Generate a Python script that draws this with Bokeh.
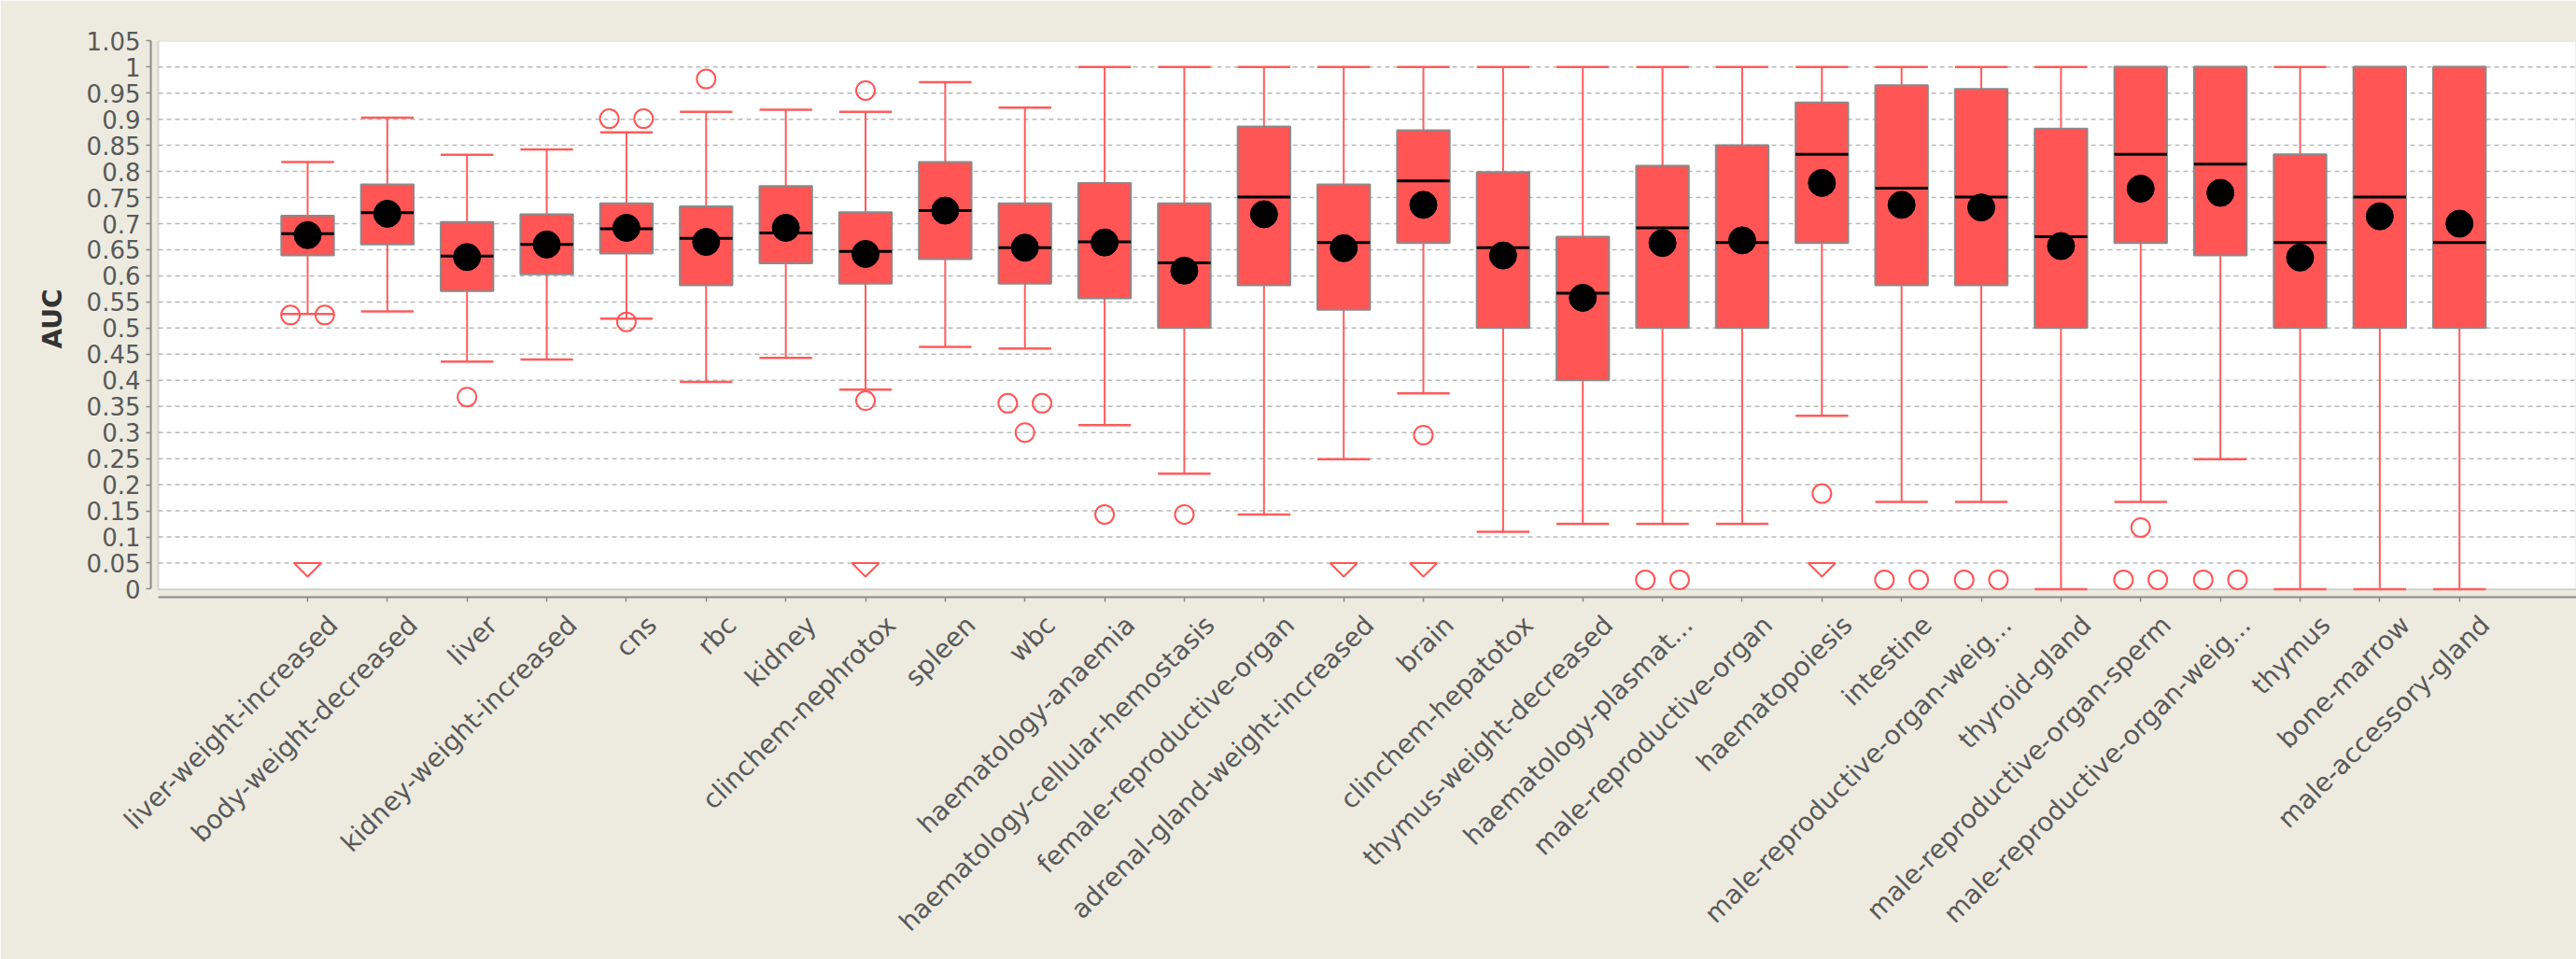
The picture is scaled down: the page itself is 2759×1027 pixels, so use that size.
import math
from bokeh.plotting import figure
from bokeh.models import Range1d, FixedTicker, BoxAnnotation, LinearAxis
from bokeh.embed import file_html
from bokeh.resources import INLINE

categories = [
    "liver-weight-increased", "body-weight-decreased", "liver", "kidney-weight-increased",
    "cns", "rbc", "kidney", "clinchem-nephrotox", "spleen", "wbc", "haematology-anaemia",
    "haematology-cellular-hemostasis", "female-reproductive-organ",
    "adrenal-gland-weight-increased", "brain", "clinchem-hepatotox", "thymus-weight-decreased",
    "haematology-plasmat...", "male-reproductive-organ", "haematopoiesis", "intestine",
    "male-reproductive-organ-weig...", "thyroid-gland", "male-reproductive-organ-sperm",
    "male-reproductive-organ-weig...", "thymus", "bone-marrow", "male-accessory-gland",
]
upper_whisker = [0.818, 0.903, 0.832, 0.842, 0.875, 0.914, 0.918, 0.914, 0.971, 0.922,
                 1.0, 1.0, 1.0, 1.0, 1.0, 1.0, 1.0, 1.0, 1.0, 1.0, 1.0, 1.0, 1.0, 1.0,
                 1.0, 1.0, 1.0, 1.0]
q3 = [0.715, 0.775, 0.703, 0.718, 0.739, 0.733, 0.772, 0.722, 0.818, 0.739, 0.778, 0.739,
      0.886, 0.775, 0.879, 0.799, 0.675, 0.811, 0.850, 0.932, 0.965, 0.958, 0.882, 1.0,
      1.0, 0.833, 1.0, 1.0]
median = [0.681, 0.721, 0.638, 0.660, 0.690, 0.672, 0.682, 0.647, 0.725, 0.654, 0.665, 0.625,
          0.751, 0.664, 0.782, 0.654, 0.567, 0.692, 0.664, 0.833, 0.768, 0.751, 0.675, 0.833,
          0.814, 0.664, 0.751, 0.664]
mean = [0.678, 0.719, 0.636, 0.660, 0.692, 0.665, 0.692, 0.642, 0.725, 0.654, 0.664, 0.610,
        0.718, 0.653, 0.736, 0.639, 0.558, 0.663, 0.668, 0.778, 0.736, 0.731, 0.657, 0.767,
        0.759, 0.635, 0.714, 0.700]
q1 = [0.639, 0.660, 0.571, 0.603, 0.643, 0.582, 0.624, 0.585, 0.632, 0.585, 0.557, 0.500,
      0.582, 0.535, 0.663, 0.500, 0.400, 0.500, 0.500, 0.663, 0.582, 0.582, 0.500, 0.663,
      0.639, 0.500, 0.500, 0.500]
lower_whisker = [0.527, 0.532, 0.436, 0.440, 0.518, 0.397, 0.443, 0.382, 0.464, 0.461, 0.314,
                 0.221, 0.143, 0.249, 0.375, 0.110, 0.125, 0.125, 0.125, 0.332, 0.167, 0.167,
                 0.0, 0.167, 0.249, 0.0, 0.0, 0.0]
outlier_cat = [0, 0, 2, 4, 4, 4, 5, 7, 7, 9, 9, 9, 10, 11, 14, 17, 17, 19, 20, 20, 21, 21,
               23, 23, 23, 24, 24]
outlier_val = [0.525, 0.525, 0.368, 0.901, 0.901, 0.512, 0.977, 0.955, 0.361, 0.356, 0.356,
               0.300, 0.143, 0.143, 0.295, 0.018, 0.018, 0.183, 0.018, 0.018, 0.018, 0.018,
               0.118, 0.018, 0.018, 0.018, 0.018]
far_out_cat = [0, 7, 13, 14, 19]
y_ticks = [0.0, 0.05, 0.1, 0.15, 0.2, 0.25, 0.3, 0.35, 0.4, 0.45, 0.5, 0.55, 0.6, 0.65,
           0.7, 0.75, 0.8, 0.85, 0.9, 0.95, 1.0, 1.05]
y_tick_labels = ["0", "0.05", "0.1", "0.15", "0.2", "0.25", "0.3", "0.35", "0.4", "0.45",
                 "0.5", "0.55", "0.6", "0.65", "0.7", "0.75", "0.8", "0.85", "0.9", "0.95",
                 "1", "1.05"]

BG = "#EDEBE0"
RED = "#FF5555"
WHISK = "#FF5C5C"
GREY = "#8A8A8A"
FONT = "DejaVu Sans"

X0, X1 = -1.968, 28.468
PLOT_LEFT = -1.874
Y0, Y1 = -0.0153, 1.0505
HW = 0.33
LABEL_SHIFT = 0.322   # category labels sit slightly right of their ticks

xs = list(range(len(categories)))

p = figure(width=2759, height=1027, x_range=Range1d(X0, X1), y_range=Range1d(Y0, Y1),
           output_backend="svg", toolbar_location=None,
           min_border_left=161, min_border_right=0, min_border_top=43, min_border_bottom=388)
p.background_fill_color = BG
p.border_fill_color = BG
p.outline_line_color = None
p.xgrid.visible = False
p.ygrid.visible = False

white = BoxAnnotation(left=PLOT_LEFT, right=X1, bottom=0, top=Y1, fill_color="white",
                      fill_alpha=1.0, line_color=GREY, line_width=2, level="image")
p.add_layout(white)

grid_y = y_ticks[1:-1]
p.segment(x0=[PLOT_LEFT] * len(grid_y), x1=[X1] * len(grid_y), y0=grid_y, y1=grid_y,
          line_color="#B8B8B8", line_width=1.5, line_dash="5 4")

# whiskers
p.segment(x0=xs, x1=xs, y0=lower_whisker, y1=upper_whisker, line_color=WHISK, line_width=2)
xl = [x - HW for x in xs]
xr = [x + HW for x in xs]
p.segment(x0=xl, x1=xr, y0=upper_whisker, y1=upper_whisker, line_color=WHISK, line_width=2.5)
p.segment(x0=xl, x1=xr, y0=lower_whisker, y1=lower_whisker, line_color=WHISK, line_width=2.5)

# boxes
p.vbar(x=xs, width=2 * HW, bottom=q1, top=q3, fill_color=RED, line_color=GREY, line_width=2)
p.segment(x0=xl, x1=xr, y0=median, y1=median, line_color="black", line_width=3)
p.scatter(x=xs, y=mean, size=29, marker="circle", fill_color="black", line_color="black")

# outliers, spread side by side when equal
groups = {}
for c, v in zip(outlier_cat, outlier_val):
    groups[(c, v)] = groups.get((c, v), 0) + 1
seen = {}
ox = []
for c, v in zip(outlier_cat, outlier_val):
    n = groups[(c, v)]
    k = seen.get((c, v), 0)
    seen[(c, v)] = k + 1
    ox.append(c + (k - (n - 1) / 2) * 0.43)
p.scatter(x=ox, y=outlier_val, size=20, marker="circle", fill_color=None,
          line_color=RED, line_width=2)

# far-out markers
p.patches(xs=[[c - 0.17, c + 0.17, c] for c in far_out_cat],
          ys=[[0.05, 0.05, 0.024] for _ in far_out_cat],
          fill_color="white", line_color=RED, line_width=2)

# y axis
p.yaxis.ticker = FixedTicker(ticks=y_ticks)
p.yaxis.major_label_overrides = {t: s for t, s in zip(y_ticks, y_tick_labels)}
p.yaxis.bounds = (0, 1.05)
p.yaxis.minor_tick_line_color = None
p.yaxis.major_tick_out = 5
p.yaxis.major_tick_in = 0
p.yaxis.major_label_standoff = 6
p.yaxis.axis_label = "AUC"
p.yaxis.axis_label_text_font = FONT
p.yaxis.axis_label_text_font_style = "bold"
p.yaxis.axis_label_text_font_size = "28px"
p.yaxis.axis_label_text_color = "#333333"
p.yaxis.axis_label_standoff = 17
p.yaxis.axis_line_color = GREY
p.yaxis.axis_line_width = 2
p.yaxis.major_tick_line_color = GREY
p.yaxis.major_tick_line_width = 1.5
p.yaxis.major_label_text_font = FONT
p.yaxis.major_label_text_font_size = "26px"
p.yaxis.major_label_text_color = "#595959"

# x axis: line + ticks only
p.xaxis.ticker = FixedTicker(ticks=xs)
p.xaxis.major_label_overrides = {i: "" for i in xs}
p.xaxis.major_label_text_font_size = "1px"
p.xaxis.major_label_standoff = 0
p.xaxis.bounds = (PLOT_LEFT, X1)
p.xaxis.minor_tick_line_color = None
p.xaxis.major_tick_out = 5
p.xaxis.major_tick_in = 0
p.xaxis.axis_line_color = GREY
p.xaxis.axis_line_width = 2
p.xaxis.major_tick_line_color = GREY
p.xaxis.major_tick_line_width = 1.5

# category labels on a second, slightly shifted axis
p.extra_x_ranges = {"labels": Range1d(X0 - LABEL_SHIFT, X1 - LABEL_SHIFT)}
lab_axis = LinearAxis(x_range_name="labels", ticker=FixedTicker(ticks=xs),
                      major_label_overrides={i: c for i, c in enumerate(categories)},
                      major_label_orientation=math.pi / 4,
                      axis_line_color=None, major_tick_line_color=None,
                      minor_tick_line_color=None, major_tick_in=0, major_tick_out=0,
                      major_label_standoff=20, major_label_text_font=FONT,
                      major_label_text_font_size="28px", major_label_text_color="#595959")
p.add_layout(lab_axis, "below")

open("out.html", "w").write(file_html(p, INLINE))
